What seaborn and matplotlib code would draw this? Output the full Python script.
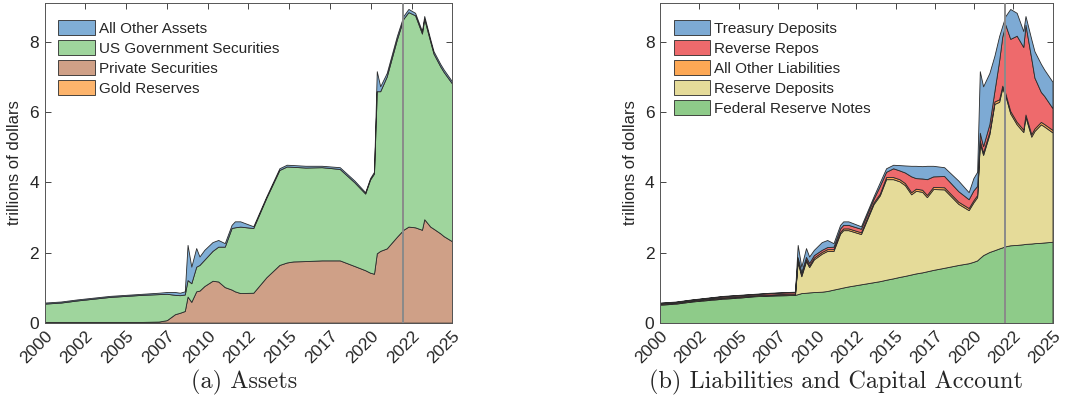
import numpy as np
import matplotlib
matplotlib.use("Agg")
import matplotlib.pyplot as plt
import seaborn as sns

sns.set_style("ticks")
plt.rcParams['font.family'] = ['Liberation Sans', 'DejaVu Sans']

# ---- (a) Assets, trillions of dollars ----
years_a = [2000.0, 2001.0, 2002.0, 2003.0, 2004.0, 2005.0, 2006.0, 2007.0, 2007.5,
           2008.0, 2008.3, 2008.6, 2008.77, 2009.0, 2009.3, 2009.5, 2009.8, 2010.3,
           2010.65, 2011.05, 2011.47, 2011.67, 2012.0, 2012.8, 2013.6, 2014.4, 2014.85,
           2015.25, 2016.0, 2017.0, 2018.1, 2019.0, 2019.66, 2019.96, 2020.2, 2020.37,
           2020.58, 2020.98, 2021.6, 2022.0, 2022.31, 2022.72, 2023.14, 2023.28, 2023.65,
           2023.85, 2024.26, 2024.47, 2025.0]
gold_reserves = [0.011] * len(years_a)
private_securities = [0.02, 0.02, 0.02, 0.02, 0.02, 0.02, 0.02, 0.03, 0.07,
                      0.24, 0.28, 0.33, 0.74, 0.59, 0.89, 0.91, 1.04, 1.19,
                      1.17, 1.01, 0.94, 0.89, 0.84, 0.85, 1.29, 1.64, 1.71,
                      1.74, 1.75, 1.77, 1.77, 1.61, 1.49, 1.42, 1.39, 1.97,
                      2.04, 2.11, 2.44, 2.64, 2.73, 2.71, 2.64, 2.94, 2.73,
                      2.67, 2.54, 2.46, 2.31]
us_gov_securities = [0.52, 0.55, 0.61, 0.66, 0.71, 0.74, 0.77, 0.78, 0.75,
                     0.55, 0.50, 0.47, 0.47, 0.53, 0.70, 0.73, 0.75, 0.85,
                     0.99, 1.15, 1.75, 1.82, 1.89, 1.84, 2.26, 2.70, 2.73,
                     2.69, 2.66, 2.65, 2.60, 2.38, 2.18, 2.65, 2.85, 4.61,
                     4.54, 4.89, 5.61, 6.00, 6.10, 6.03, 5.58, 5.70, 5.26,
                     4.98, 4.75, 4.67, 4.48]
other_assets = [0.03, 0.03, 0.03, 0.03, 0.03, 0.03, 0.03, 0.04, 0.05,
                0.08, 0.07, 0.09, 1.00, 0.47, 0.53, 0.24, 0.28, 0.25,
                0.19, 0.10, 0.09, 0.17, 0.15, 0.05, 0.04, 0.05, 0.05,
                0.05, 0.05, 0.04, 0.05, 0.05, 0.04, 0.04, 0.05, 0.57,
                0.14, 0.10, 0.10, 0.08, 0.09, 0.07, 0.07, 0.08, 0.07,
                0.07, 0.07, 0.07, 0.06]

# ---- (b) Liabilities and Capital Account ----
years_b = [2000.0, 2001.0, 2002.0, 2003.0, 2004.0, 2005.0, 2006.0, 2007.0, 2008.0,
           2008.6, 2008.77, 2009.0, 2009.3, 2009.5, 2009.8, 2010.3, 2010.65, 2011.05,
           2011.47, 2011.67, 2012.0, 2012.8, 2013.6, 2014.0, 2014.4, 2014.85, 2015.25,
           2015.6, 2016.0, 2016.3, 2016.7, 2017.0, 2017.4, 2018.1, 2019.0, 2019.66,
           2019.96, 2020.2, 2020.37, 2020.58, 2020.98, 2021.3, 2021.6, 2021.8, 2022.0,
           2022.31, 2022.72, 2023.14, 2023.28, 2023.65, 2023.85, 2024.26, 2024.47, 2025.0]
fed_notes = [0.52, 0.55, 0.61, 0.65, 0.69, 0.72, 0.76, 0.78, 0.79,
             0.80, 0.82, 0.85, 0.86, 0.87, 0.88, 0.89, 0.91, 0.95,
             0.99, 1.01, 1.04, 1.10, 1.16, 1.19, 1.23, 1.27, 1.31,
             1.34, 1.38, 1.41, 1.44, 1.47, 1.51, 1.57, 1.65, 1.70,
             1.74, 1.78, 1.85, 1.93, 2.02, 2.07, 2.12, 2.15, 2.18,
             2.21, 2.22, 2.24, 2.25, 2.26, 2.27, 2.28, 2.29, 2.31]
reserve_deposits = [0.02, 0.02, 0.01, 0.02, 0.02, 0.02, 0.01, 0.01, 0.01,
                    0.01, 0.92, 0.48, 0.90, 0.72, 0.93, 1.08, 1.14, 1.10,
                    1.55, 1.63, 1.60, 1.43, 2.22, 2.44, 2.86, 2.82, 2.72,
                    2.58, 2.28, 2.35, 2.29, 2.11, 2.30, 2.23, 1.74, 1.51,
                    1.69, 1.80, 3.27, 2.85, 3.35, 4.16, 4.17, 4.53, 4.28,
                    3.75, 3.43, 3.19, 3.61, 3.04, 3.19, 3.37, 3.30, 3.11]
other_liabilities = [0.02, 0.02, 0.02, 0.02, 0.02, 0.02, 0.02, 0.02, 0.03,
                     0.03, 0.05, 0.05, 0.05, 0.05, 0.05, 0.05, 0.05, 0.05,
                     0.05, 0.05, 0.05, 0.05, 0.05, 0.05, 0.06, 0.06, 0.06,
                     0.06, 0.06, 0.06, 0.06, 0.06, 0.06, 0.06, 0.06, 0.06,
                     0.06, 0.06, 0.07, 0.07, 0.07, 0.07, 0.07, 0.07, 0.07,
                     0.07, 0.07, 0.07, 0.07, 0.07, 0.07, 0.07, 0.07, 0.07]
reverse_repos = [0.01, 0.01, 0.02, 0.02, 0.03, 0.03, 0.03, 0.04, 0.04,
                 0.04, 0.08, 0.07, 0.07, 0.07, 0.07, 0.06, 0.06, 0.07,
                 0.10, 0.10, 0.10, 0.10, 0.10, 0.22, 0.15, 0.25, 0.25,
                 0.30, 0.45, 0.30, 0.32, 0.45, 0.30, 0.32, 0.30, 0.25,
                 0.28, 0.26, 0.22, 0.18, 0.22, 0.30, 1.10, 1.40, 1.95,
                 2.05, 2.45, 2.35, 2.55, 2.15, 1.45, 0.85, 0.80, 0.62]
treasury_deposits = [0.01, 0.01, 0.01, 0.01, 0.01, 0.01, 0.01, 0.01, 0.01,
                     0.01, 0.35, 0.15, 0.25, 0.18, 0.15, 0.22, 0.20, 0.10,
                     0.10, 0.10, 0.10, 0.07, 0.07, 0.10, 0.10, 0.10, 0.15,
                     0.20, 0.30, 0.35, 0.35, 0.38, 0.30, 0.25, 0.30, 0.20,
                     0.35, 0.40, 1.75, 1.70, 1.45, 1.00, 0.70, 0.30, 0.25,
                     0.85, 0.65, 0.45, 0.25, 0.55, 0.75, 0.80, 0.75, 0.75]

labels_a = ['Gold Reserves', 'Private Securities', 'US Government Securities', 'All Other Assets']
colors_a = ['#FDB46C', '#CFA087', '#9FD59D', '#80AED6']
labels_b = ['Federal Reserve Notes', 'Reserve Deposits', 'All Other Liabilities',
            'Reverse Repos', 'Treasury Deposits']
colors_b = ['#8ECB89', '#E5DB99', '#FDA855', '#EE6A6C', '#7DAAD4']

tick_pos = np.arange(2000, 2025.1, 2.5)
tick_lab = [str(int(t)) for t in tick_pos]
marker_year = 2022.0

fig = plt.figure(figsize=(10.86, 4.19), dpi=100)
ax1 = fig.add_axes([44.5 / 1086, 1 - 323 / 419, (452.3 - 44.5) / 1086, 320 / 419])
ax2 = fig.add_axes([660 / 1086, 1 - 323 / 419, (1052.5 - 660) / 1086, 320 / 419])

panels = [
    (ax1, years_a, [gold_reserves, private_securities, us_gov_securities, other_assets], labels_a, colors_a),
    (ax2, years_b, [fed_notes, reserve_deposits, other_liabilities, reverse_repos, treasury_deposits], labels_b, colors_b),
]

for ax, yrs, series, labels, colors in panels:
    ax.stackplot(yrs, *series, labels=labels, colors=colors,
                 edgecolor='#2b2b2b', linewidth=0.6)
    ax.axvline(marker_year, color='#8a8a8a', lw=1.4, zorder=5)
    ax.set_xlim(2000, 2025)
    ax.set_ylim(0, 9.1)
    ax.set_yticks([0, 2, 4, 6, 8])
    ax.set_xticks(tick_pos)
    ax.set_xticklabels(tick_lab, rotation=45, ha='right', rotation_mode='anchor')
    ax.tick_params(direction='in', top=True, right=True, length=4, width=0.7,
                   color='#444444', labelsize=12.5, labelcolor='#262626', pad=4)
    for s in ax.spines.values():
        s.set_color('#555555')
        s.set_linewidth(0.7)
    ax.set_ylabel('trillions of dollars', fontsize=12, color='#262626', labelpad=5)
    h, l = ax.get_legend_handles_labels()
    ax.legend(h[::-1], l[::-1], loc='upper left', frameon=False, fontsize=11,
              handlelength=2.4, handleheight=1.15, handletextpad=0.25,
              labelspacing=0.28, borderaxespad=0.5, bbox_to_anchor=(0.0, 0.99))

fig.text(244 / 1086, 1 - 382 / 419, '(a) Assets', family='cmr10', fontsize=17.5,
         ha='center', va='center')
fig.text(836 / 1086, 1 - 382 / 419, '(b) Liabilities and Capital Account', family='cmr10',
         fontsize=17.5, ha='center', va='center')

fig.savefig('out.png', dpi=100)
